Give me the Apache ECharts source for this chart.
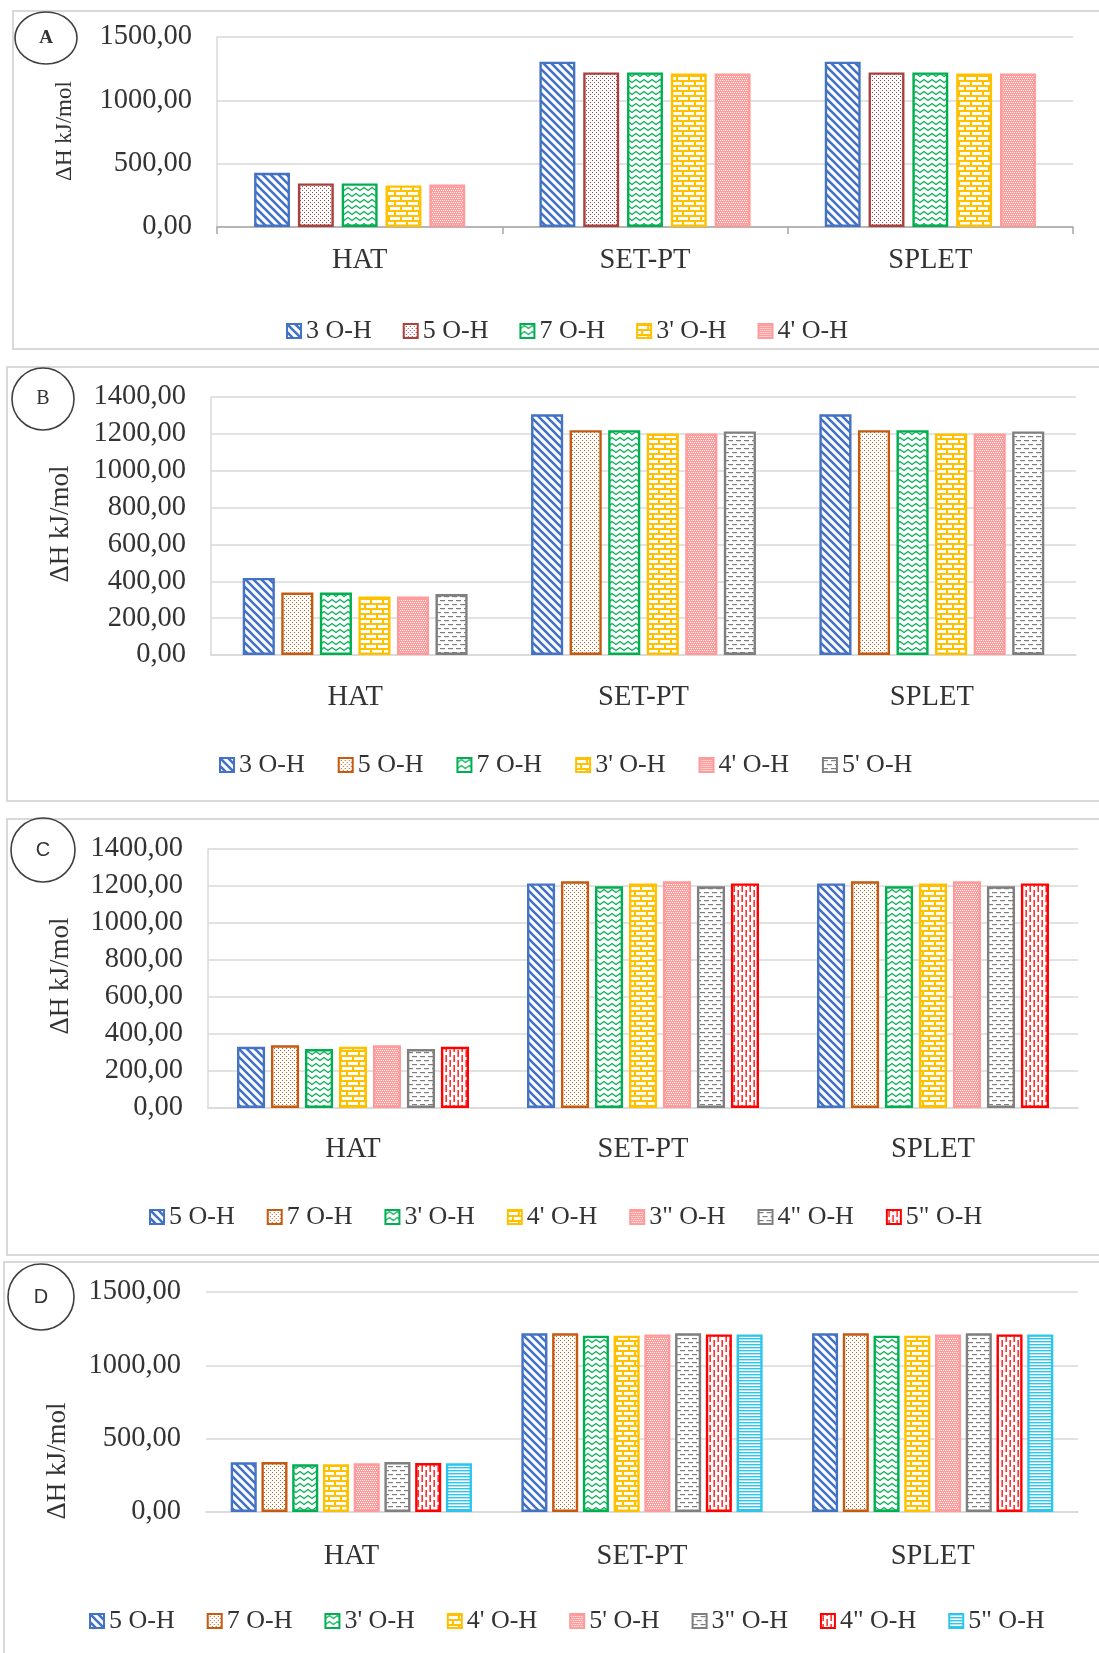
<!DOCTYPE html>
<html>
<head>
<meta charset="utf-8">
<script src="https://cdn.jsdelivr.net/npm/echarts@6/dist/echarts.min.js"></script>
<style>
  html, body { margin: 0; padding: 0; background: #ffffff; }
  .panel { position: absolute; left: 0; width: 1099px; }
</style>
</head>
<body>
<div id="panelA" class="panel" style="top:0px;height:358px"></div>
<div id="panelB" class="panel" style="top:358px;height:452px"></div>
<div id="panelC" class="panel" style="top:810px;height:450px"></div>
<div id="panelD" class="panel" style="top:1260px;height:393px"></div>
<script>
// ---- data -------------------------------------------------------------
const categories = ['HAT', 'SET-PT', 'SPLET'];

// Panel A
const namesA = ['3 O-H', '5 O-H', '7 O-H', "3' O-H", "4' O-H"];
const valuesA = [
  [428, 1305, 1305],
  [344, 1220, 1220],
  [344, 1220, 1220],
  [328, 1212, 1212],
  [336, 1212, 1212]
];
const ticksA = { min: 0, max: 1500, interval: 500 };

// Panel B
const namesB = ['3 O-H', '5 O-H', '7 O-H', "3' O-H", "4' O-H", "5' O-H"];
const valuesB = [
  [418, 1306, 1306],
  [339, 1220, 1220],
  [339, 1220, 1220],
  [317, 1202, 1202],
  [317, 1202, 1202],
  [331, 1213, 1213]
];
const ticksB = { min: 0, max: 1400, interval: 200 };

// Panel C
const namesC = ['5 O-H', '7 O-H', "3' O-H", "4' O-H", '3" O-H', '4" O-H', '5" O-H'];
const valuesC = [
  [331, 1214, 1214],
  [339, 1225, 1225],
  [319, 1198, 1198],
  [331, 1214, 1214],
  [339, 1225, 1225],
  [319, 1198, 1198],
  [331, 1214, 1214]
];
const ticksC = { min: 0, max: 1400, interval: 200 };

// Panel D
const namesD = ['5 O-H', '7 O-H', "3' O-H", "4' O-H", "5' O-H", '3" O-H', '4" O-H', '5" O-H'];
const valuesD = [
  [339, 1218, 1218],
  [341, 1218, 1218],
  [325, 1202, 1202],
  [325, 1202, 1202],
  [332, 1211, 1211],
  [341, 1218, 1218],
  [334, 1211, 1211],
  [332, 1211, 1211]
];
const ticksD = { min: 0, max: 1500, interval: 500 };

// ---- fill patterns --------------------------------------------------
function tile(w, h, draw) {
  const c = document.createElement('canvas');
  c.width = w; c.height = h;
  const g = c.getContext('2d');
  g.fillStyle = '#ffffff';
  g.fillRect(0, 0, w, h);
  draw(g, w, h);
  return c;
}
function diagonal(col) {
  return tile(8, 8, g => {
    g.strokeStyle = col; g.lineWidth = 2.6;
    g.beginPath();
    g.moveTo(-1, -1); g.lineTo(9, 9);
    g.moveTo(-1, 7); g.lineTo(1, 9);
    g.moveTo(7, -1); g.lineTo(9, 1);
    g.stroke();
  });
}
function dots(col) {
  return tile(4, 4, g => {
    g.fillStyle = col;
    g.fillRect(0, 0, 1, 1);
    g.fillRect(2, 2, 1, 1);
  });
}
function wave(col) {
  return tile(8, 6, g => {
    g.strokeStyle = col; g.lineWidth = 1.3;
    g.beginPath();
    g.moveTo(-2, 2.5); g.lineTo(0, 4.5); g.lineTo(4, 1.5); g.lineTo(8, 4.5); g.lineTo(10, 2.5);
    g.stroke();
  });
}
function brick(col) {
  return tile(12, 10, g => {
    g.fillStyle = col; g.fillRect(0, 0, 12, 10);
    g.fillStyle = '#ffffff';
    g.fillRect(0, 2, 10, 3);
    g.fillRect(0, 7, 4, 3);
    g.fillRect(6, 7, 6, 3);
  });
}
function checker(col) {
  return tile(4, 4, g => {
    g.fillStyle = col; g.fillRect(0, 0, 4, 4);
    g.fillStyle = '#ffffff';
    g.fillRect(0, 0, 1, 1); g.fillRect(2, 0, 1, 1);
    g.fillRect(1, 2, 1, 1); g.fillRect(3, 2, 1, 1);
  });
}
function hdash(col) {
  return tile(8, 8, g => {
    g.fillStyle = col;
    g.fillRect(0, 2, 5, 1.2);
    g.fillRect(4, 6, 4, 1.2);
    g.fillRect(0, 6, 1, 1.2);
  });
}
function vdash(col) {
  return tile(8, 10, g => {
    g.fillStyle = col;
    g.fillRect(1.5, 0, 1.3, 7);
    g.fillRect(5.5, 5, 1.3, 5);
    g.fillRect(5.5, 0, 1.3, 2);
  });
}
function hlines(col) {
  return tile(4, 3, g => {
    g.fillStyle = col;
    g.fillRect(0, 0, 4, 1.4);
  });
}

const STYLES = {
  blue:   { color: '#4472C4', make: diagonal },
  maroon: { color: '#A8413F', make: dots },
  orange: { color: '#C55A11', make: dots },
  green:  { color: '#00B050', make: wave },
  gold:   { color: '#FFC000', make: brick },
  pink:   { color: '#FF9B9B', make: checker },
  gray:   { color: '#7F7F7F', make: hdash },
  red:    { color: '#FF0000', make: vdash },
  cyan:   { color: '#2CC6EC', make: hlines }
};

const stylesA = ['blue', 'maroon', 'green', 'gold', 'pink'];
const stylesB = ['blue', 'orange', 'green', 'gold', 'pink', 'gray'];
const stylesC = ['blue', 'orange', 'green', 'gold', 'pink', 'gray', 'red'];
const stylesD = ['blue', 'orange', 'green', 'gold', 'pink', 'gray', 'red', 'cyan'];

// ---- chart builder ----------------------------------------------------
const SERIF = '"Liberation Serif", "Times New Roman", serif';
const TEXT = '#333333';

function fmt(v) { return v.toFixed(2).replace('.', ','); }

function buildPanel(id, names, values, styles, ticks, L) {
  const chart = echarts.init(document.getElementById(id), null, { renderer: 'canvas' });
  const series = names.map((n, i) => {
    const st = STYLES[styles[i]];
    return {
      name: n,
      type: 'bar',
      data: values[i],
      barGap: L.barGap,
      barCategoryGap: L.barCategoryGap,
      itemStyle: {
        color: { image: st.make(st.color), repeat: 'repeat' },
        borderColor: st.color,
        borderWidth: 2.4
      },
      emphasis: { disabled: true }
    };
  });
  chart.setOption({
    animation: false,
    backgroundColor: '#ffffff',
    graphic: [
      { type: 'rect', shape: { x: L.box[0], y: L.box[1], width: L.box[2], height: L.box[3] },
        style: { fill: 'none', stroke: '#D9D9D9', lineWidth: 2 }, silent: true },
      { type: 'ellipse', shape: { cx: L.badge[0], cy: L.badge[1], rx: L.badge[2], ry: L.badge[3] },
        style: { fill: 'none', stroke: '#404040', lineWidth: 1.6 }, silent: true },
      { type: 'text', x: L.badge[0], y: L.badge[1],
        style: { text: L.letter, font: L.letterFont, fill: '#333333', align: 'center', verticalAlign: 'middle' } },
      { type: 'text', x: L.title[0], y: L.title[1], rotation: Math.PI / 2,
        style: { text: 'ΔH kJ/mol', font: L.title[2] + 'px ' + SERIF, fill: TEXT, align: 'center', verticalAlign: 'middle' } }
    ],
    legend: {
      data: names,
      left: L.legend[0],
      top: L.legend[1],
      icon: 'rect',
      itemWidth: 14,
      itemHeight: 14,
      itemGap: L.legend[2],
      selectedMode: false,
      textStyle: { fontFamily: SERIF, fontSize: 26, color: TEXT, padding: [0, 0, 0, 0] }
    },
    grid: { left: L.grid[0], top: L.grid[1], width: L.grid[2], height: L.grid[3], containLabel: false },
    xAxis: {
      type: 'category',
      data: categories,
      axisLine: { show: true, lineStyle: { color: L.xAxisColor, width: 1.5 } },
      axisTick: { show: L.xTicks, length: 7, lineStyle: { color: L.xAxisColor, width: 1.5 } },
      axisLabel: { fontFamily: SERIF, fontSize: 28.5, color: TEXT, margin: L.catMargin }
    },
    yAxis: {
      type: 'value',
      min: ticks.min,
      max: ticks.max,
      interval: ticks.interval,
      axisLine: { show: L.yLine, lineStyle: { color: '#D9D9D9', width: 1.5 } },
      axisTick: { show: false },
      splitLine: { show: true, lineStyle: { color: '#D9D9D9', width: 1.5 } },
      axisLabel: { fontFamily: SERIF, fontSize: 28.5, color: TEXT, margin: 25, formatter: fmt }
    },
    series: series
  });
  return chart;
}

buildPanel('panelA', namesA, valuesA, stylesA, ticksA, {
  box: [13, 11, 1100, 338],
  badge: [46, 38, 31, 26], letter: 'A', letterFont: 'bold 19px ' + SERIF,
  title: [65, 131, 23],
  legend: [281, 313, 31],
  grid: [217, 37, 856, 190],
  barGap: '22%', barCategoryGap: '26%',
  xAxisColor: '#A6A6A6', xTicks: true, yLine: true,
  catMargin: 19
});

buildPanel('panelB', namesB, valuesB, stylesB, ticksB, {
  box: [7, 9, 1100, 434],
  badge: [43, 41, 31, 31], letter: 'B', letterFont: '20px ' + SERIF,
  title: [61, 166, 27],
  legend: [214, 389, 33],
  grid: [211, 39, 865, 258],
  barGap: '20%', barCategoryGap: '22%',
  xAxisColor: '#D9D9D9', xTicks: false, yLine: true,
  catMargin: 28
});

buildPanel('panelC', namesC, valuesC, stylesC, ticksC, {
  box: [7, 9, 1100, 436],
  badge: [43, 40, 32, 32], letter: 'C', letterFont: '20px "Liberation Sans", Arial, sans-serif',
  title: [61, 166, 27],
  legend: [144, 389, 32],
  grid: [208, 39, 870, 259],
  barGap: '21%', barCategoryGap: '20%',
  xAxisColor: '#D9D9D9', xTicks: false, yLine: true,
  catMargin: 27
});

buildPanel('panelD', namesD, valuesD, stylesD, ticksD, {
  box: [4, 2, 1100, 420],
  badge: [41, 37, 33, 33], letter: 'D', letterFont: '20px "Liberation Sans", Arial, sans-serif',
  title: [58, 201, 27],
  legend: [84, 343, 32],
  grid: [206, 32, 872, 220],
  barGap: '18%', barCategoryGap: '17%',
  xAxisColor: '#D9D9D9', xTicks: false, yLine: false,
  catMargin: 30
});
</script>
</body>
</html>
